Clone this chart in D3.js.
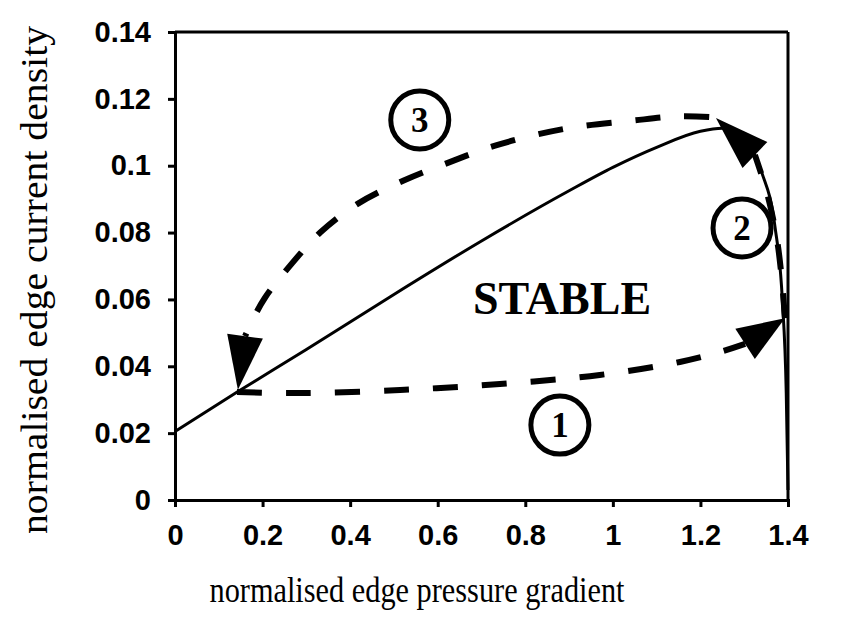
<!DOCTYPE html>
<meta charset="utf-8">
<style type="text/css">
  body { margin: 0; background: #fff; }
  .tick text {
    font-family: "Liberation Sans", Arial, sans-serif;
    font-weight: bold;
    font-size: 29px;
    fill: #000;
  }
  .axis-title {
    font-family: "Liberation Serif", "Times New Roman", serif;
    fill: #000;
  }
  .solid { fill: none; stroke: #000; stroke-width: 3; }
  .dashed { fill: none; stroke: #000; stroke-width: 6; stroke-dasharray: 25,24; }
  .arrow { fill: #000; stroke: none; }
  .badge circle { fill: #fff; stroke: #000; stroke-width: 5; }
  .badge text {
    font-family: "Liberation Serif", serif;
    font-weight: bold;
    font-size: 35px;
    fill: #000;
  }
</style>
<body>
<svg width="842" height="621"></svg>
<script src="https://d3js.org/d3.v7.min.js"></script>
<script>

// axis ticks
var xTicks = [0, 0.2, 0.4, 0.6, 0.8, 1, 1.2, 1.4];
var yTicks = [0, 0.02, 0.04, 0.06, 0.08, 0.1, 0.12, 0.14];

// stability boundary (solid)
var boundaryX = [0, 0.142, 0.3, 0.5, 0.7, 0.9, 1.0, 1.1, 1.2, 1.25, 1.3, 1.34, 1.37, 1.387, 1.396, 1.4];
var boundaryY = [0.0205, 0.0323, 0.045, 0.0615, 0.0775, 0.0925, 0.0995, 0.1055, 0.1103, 0.1112, 0.108, 0.098, 0.082, 0.06, 0.032, 0.003];

// cycle phases (dashed), last point is the arrow tip, the one before it the arrow base
var phase1X = [0.1416, 0.2855, 0.514, 0.742, 0.97, 1.153, 1.245, 1.302, 1.393];
var phase1Y = [0.0323, 0.032, 0.0329, 0.0347, 0.0374, 0.0413, 0.0443, 0.0467, 0.0544];
var phase2X = [1.393, 1.386, 1.375, 1.359, 1.347, 1.3245, 1.2355];
var phase2Y = [0.0544, 0.0658, 0.0778, 0.0882, 0.0942, 0.1032, 0.1143];
var phase3X = [1.22, 1.151, 1.046, 0.888, 0.731, 0.626, 0.521, 0.416, 0.3316, 0.2686, 0.2055, 0.174, 0.16, 0.1436];
var phase3Y = [0.1146, 0.1148, 0.1135, 0.111, 0.106, 0.101, 0.0955, 0.0885, 0.080, 0.071, 0.0605, 0.053, 0.049, 0.033];

// numbered markers
var badgeLabels = ["1", "2", "3"];
var badgeX = [0.879, 1.295, 0.559];
var badgeY = [0.0224, 0.0814, 0.1137];

var regionLabel = "STABLE";
var regionX = 0.884, regionY = 0.0556;

var xTitle = "normalised edge pressure gradient";
var yTitle = "normalised edge current density";

var svg = d3.select("svg");

var x = d3.scaleLinear().domain([0, 1.4]).range([175, 788]);
var y = d3.scaleLinear().domain([0, 0.14]).range([500, 32]);

/* frame */
svg.append("line")
  .attr("x1", x(0)).attr("x2", x(1.4))
  .attr("y1", y(0.14)).attr("y2", y(0.14))
  .attr("stroke", "#000").attr("stroke-width", 3);
svg.append("line")
  .attr("x1", x(1.4)).attr("x2", x(1.4))
  .attr("y1", y(0.14)).attr("y2", y(0))
  .attr("stroke", "#000").attr("stroke-width", 3);

/* axes */
var fmt = function(d) { return String(+d.toFixed(2)); };
var xAxis = svg.append("g")
  .attr("transform", "translate(0," + y(0) + ")")
  .call(d3.axisBottom(x).tickValues(xTicks).tickSize(7).tickPadding(17).tickFormat(fmt));
var yAxis = svg.append("g")
  .attr("transform", "translate(" + x(0) + ",0)")
  .call(d3.axisLeft(y).tickValues(yTicks).tickSize(7).tickPadding(17).tickFormat(fmt));
[xAxis, yAxis].forEach(function(a) {
  a.select(".domain").attr("stroke-width", 3).attr("stroke", "#000");
  a.selectAll(".tick line").attr("stroke-width", 3).attr("stroke", "#000");
});

svg.append("text")
  .attr("class", "axis-title")
  .attr("x", 417)
  .attr("y", 602)
  .attr("text-anchor", "middle")
  .style("font-size", "36px")
  .attr("textLength", 415)
  .attr("lengthAdjust", "spacingAndGlyphs")
  .text(xTitle);
svg.append("text")
  .attr("class", "axis-title")
  .attr("transform", "translate(47,280) rotate(-90)")
  .attr("text-anchor", "middle")
  .style("font-size", "38px")
  .attr("textLength", 508)
  .attr("lengthAdjust", "spacingAndGlyphs")
  .text(yTitle);

/* curves */
function pts(xs, ys) { return xs.map(function(v, i) { return [x(v), y(ys[i])]; }); }

svg.append("path")
  .attr("class", "solid")
  .attr("d", d3.line().curve(d3.curveMonotoneX)(pts(boundaryX, boundaryY)));

function arrowPath(xs, ys) {
  var p = pts(xs, ys);
  var tip = p[p.length - 1], base = p[p.length - 2];
  svg.append("path")
    .attr("class", "dashed")
    .attr("d", d3.line().curve(d3.curveCatmullRom)(p.slice(0, p.length - 1)));
  var dx = tip[0] - base[0], dy = tip[1] - base[1];
  var len = Math.sqrt(dx * dx + dy * dy);
  var nx = -dy / len * 18, ny = dx / len * 18;
  svg.append("path")
    .attr("class", "arrow")
    .attr("d", "M" + tip[0] + "," + tip[1] +
               "L" + (base[0] + nx) + "," + (base[1] + ny) +
               "L" + (base[0] - nx) + "," + (base[1] - ny) + "Z");
}
arrowPath(phase1X, phase1Y);
arrowPath(phase2X, phase2Y);
arrowPath(phase3X, phase3Y);

/* labels */
var badges = svg.selectAll(".badge")
  .data(badgeLabels)
  .enter().append("g")
  .attr("class", "badge")
  .attr("transform", function(d, i) { return "translate(" + x(badgeX[i]) + "," + y(badgeY[i]) + ")"; });
badges.append("circle").attr("r", 29);
badges.append("text")
  .attr("text-anchor", "middle")
  .attr("dy", "0.35em")
  .text(function(d) { return d; });

svg.append("text")
  .attr("x", x(regionX))
  .attr("y", y(regionY))
  .attr("text-anchor", "middle")
  .style("font-family", "'Liberation Serif', serif")
  .style("font-weight", "bold")
  .style("font-size", "46px")
  .text(regionLabel);

</script>
</body>
